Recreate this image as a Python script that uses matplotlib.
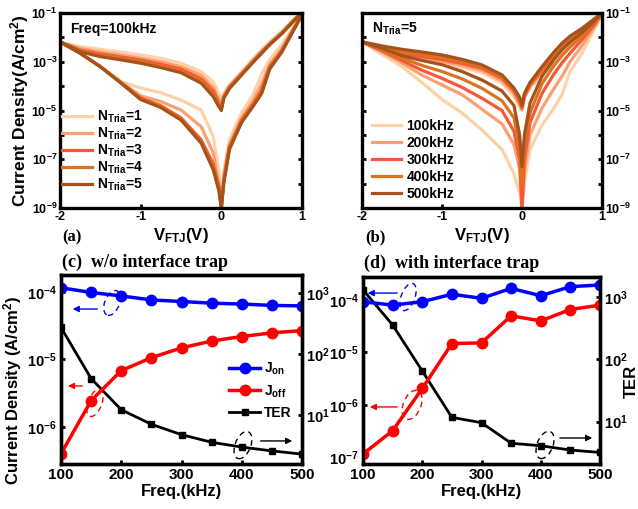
import numpy as np
import matplotlib
matplotlib.use("Agg")
import matplotlib.pyplot as plt
from matplotlib.ticker import FixedLocator, FuncFormatter, NullLocator
from matplotlib.patches import Ellipse

plt.rcParams["font.family"] = "Liberation Sans"
plt.rcParams["font.weight"] = "bold"
plt.rcParams["axes.labelweight"] = "bold"
plt.rcParams["mathtext.fontset"] = "custom"
plt.rcParams["mathtext.rm"] = "Liberation Sans:bold"
plt.rcParams["mathtext.it"] = "Liberation Sans:bold"
plt.rcParams["mathtext.bf"] = "Liberation Sans:bold"
plt.rcParams["axes.linewidth"] = 2.4

# ── Data: I-V loops, log10 of current density (A/cm^2) ─────────────
v_neg = [-2.0, -1.75, -1.5, -1.25, -1.0, -0.75, -0.5, -0.25, -0.1, -0.03, 0.0]
v_pos = [0.0, 0.03, 0.1, 0.25, 0.4, 0.5, 0.6, 0.75, 0.9, 1.0]

# (a) Freq = 100 kHz, N_Tria = 1..5
tria_labels = ["1", "2", "3", "4", "5"]
a_on_neg = [
    [-2.20, -2.38, -2.49, -2.60, -2.72, -2.86, -3.06, -3.40, -3.82, -4.30, -4.60],
    [-2.20, -2.45, -2.60, -2.72, -2.85, -3.00, -3.20, -3.55, -4.05, -4.55, -4.80],
    [-2.20, -2.52, -2.68, -2.80, -2.93, -3.10, -3.30, -3.70, -4.20, -4.70, -4.90],
    [-2.20, -2.55, -2.74, -2.87, -3.00, -3.18, -3.38, -3.80, -4.32, -4.80, -4.95],
    [-2.18, -2.59, -2.79, -2.92, -3.06, -3.24, -3.45, -3.88, -4.43, -4.85, -5.00],
]
a_off_neg = [
    [-2.18, -2.65, -3.20, -3.80, -4.08, -4.27, -4.57, -4.98, -6.07, -7.50, -9.00],
    [-2.18, -2.65, -3.20, -3.82, -4.40, -4.63, -4.98, -5.66, -6.74, -8.00, -9.00],
    [-2.18, -2.65, -3.20, -3.84, -4.48, -4.80, -5.30, -6.20, -7.20, -8.10, -9.00],
    [-2.18, -2.65, -3.20, -3.85, -4.52, -4.84, -5.36, -6.30, -7.35, -8.20, -9.00],
    [-2.18, -2.65, -3.20, -3.86, -4.55, -4.88, -5.39, -6.34, -7.43, -8.30, -9.00],
]
a_on_pos = [
    [-4.60, -4.30, -3.95, -3.40, -2.85, -2.50, -2.18, -1.75, -1.25, -0.95],
    [-4.80, -4.40, -4.00, -3.47, -2.92, -2.57, -2.24, -1.80, -1.28, -0.97],
    [-4.90, -4.45, -4.05, -3.50, -2.96, -2.61, -2.27, -1.82, -1.30, -0.98],
    [-4.95, -4.48, -4.08, -3.52, -2.98, -2.63, -2.29, -1.84, -1.31, -0.99],
    [-5.00, -4.50, -4.10, -3.55, -3.00, -2.65, -2.30, -1.85, -1.32, -1.00],
]
a_off_pos = [
    [-9.00, -7.50, -6.20, -5.10, -4.30, -3.50, -2.90, -2.30, -1.55, -1.05],
    [-9.00, -7.70, -6.40, -5.30, -4.55, -3.90, -3.10, -2.45, -1.60, -1.06],
    [-9.00, -7.85, -6.50, -5.40, -4.70, -4.15, -3.20, -2.55, -1.65, -1.07],
    [-9.00, -7.95, -6.55, -5.45, -4.75, -4.25, -3.25, -2.58, -1.67, -1.08],
    [-9.00, -8.00, -6.60, -5.50, -4.80, -4.30, -3.30, -2.60, -1.68, -1.08],
]

# (b) N_Tria = 5, 100..500 kHz
freq_labels = ["100kHz", "200kHz", "300kHz", "400kHz", "500kHz"]
b_on_neg = [
    [-2.18, -2.59, -2.79, -2.92, -3.06, -3.24, -3.45, -3.88, -4.43, -4.85, -5.00],
    [-2.18, -2.55, -2.72, -2.86, -2.98, -3.15, -3.36, -3.78, -4.30, -4.75, -4.95],
    [-2.18, -2.50, -2.66, -2.79, -2.91, -3.07, -3.27, -3.68, -4.20, -4.65, -4.90],
    [-2.18, -2.45, -2.58, -2.70, -2.82, -2.98, -3.18, -3.60, -4.12, -4.55, -4.85],
    [-2.18, -2.35, -2.49, -2.60, -2.72, -2.90, -3.13, -3.54, -4.08, -4.45, -4.80],
]
b_off_neg = [
    [-2.18, -2.70, -3.20, -3.85, -4.55, -5.10, -5.80, -6.60, -7.60, -8.40, -9.00],
    [-2.18, -2.60, -3.05, -3.55, -3.95, -4.35, -4.95, -5.55, -6.40, -7.40, -9.00],
    [-2.18, -2.55, -2.95, -3.35, -3.68, -4.05, -4.50, -5.00, -5.85, -7.00, -9.00],
    [-2.18, -2.50, -2.85, -3.15, -3.40, -3.70, -4.09, -4.60, -5.30, -6.50, -8.00],
    [-2.18, -2.45, -2.75, -2.95, -3.12, -3.40, -3.75, -4.20, -4.80, -6.00, -7.30],
]
b_on_pos = [
    [-5.00, -4.50, -4.10, -3.55, -3.00, -2.65, -2.30, -1.85, -1.30, -1.00],
    [-4.95, -4.45, -4.00, -3.45, -2.90, -2.55, -2.20, -1.78, -1.30, -1.00],
    [-4.90, -4.40, -3.95, -3.35, -2.80, -2.45, -2.12, -1.72, -1.28, -1.00],
    [-4.85, -4.35, -3.90, -3.28, -2.70, -2.35, -2.03, -1.68, -1.27, -1.00],
    [-4.80, -4.30, -3.85, -3.20, -2.60, -2.24, -1.95, -1.63, -1.25, -1.00],
]
b_off_pos = [
    [-9.00, -8.00, -6.60, -5.60, -4.90, -4.35, -3.40, -2.65, -1.70, -1.05],
    [-9.00, -7.50, -6.00, -4.90, -4.10, -3.60, -3.00, -2.35, -1.60, -1.03],
    [-9.00, -7.00, -5.50, -4.30, -3.50, -3.05, -2.65, -2.10, -1.50, -1.02],
    [-8.00, -6.50, -5.10, -3.90, -3.15, -2.75, -2.40, -1.95, -1.42, -1.00],
    [-7.30, -6.00, -4.70, -3.60, -2.90, -2.50, -2.20, -1.80, -1.35, -1.00],
]

# (c), (d) frequency sweeps
freq = [100, 150, 200, 250, 300, 350, 400, 450, 500]
c_jon = [1.15e-4, 9.8e-5, 8.7e-5, 7.6e-5, 7.2e-5, 6.8e-5, 6.6e-5, 6.3e-5, 6.2e-5]
c_joff = [4.0e-7, 2.45e-6, 6.8e-6, 1.06e-5, 1.48e-5, 1.87e-5, 2.18e-5, 2.47e-5, 2.67e-5]
c_ter = [275, 40, 12.3, 7.1, 4.8, 3.6, 3.0, 2.6, 2.3]
d_jon = [9.3e-5, 8.0e-5, 9.3e-5, 1.29e-4, 1.08e-4, 1.67e-4, 1.21e-4, 1.8e-4, 1.94e-4]
d_joff = [1.15e-7, 3.2e-7, 2.05e-6, 1.48e-5, 1.52e-5, 5.0e-5, 4.0e-5, 6.6e-5, 8.0e-5]
d_ter = [1300, 355, 65, 11.7, 9.6, 4.5, 4.1, 3.5, 3.2]

loop_colors = ["#FDD2A8", "#FBA070", "#F9573A", "#DB741E", "#A5521C"]

# ── Figure layout (pixel boxes) ────────────────────────────────────
W, H = 638, 509
fig = plt.figure(figsize=(W / 100, H / 100), dpi=100)


def box(l, t, r, b):
    return [l / W, 1 - b / H, (r - l) / W, (b - t) / H]


def fx(x):
    return x / W


def fy(y):
    return 1 - y / H


def dec_axis(axis, lo, hi, step=1):
    exps = list(range(lo, hi + 1))
    axis.set_major_locator(FixedLocator([10.0 ** e for e in exps]))
    axis.set_minor_locator(NullLocator())

    def fmt(v, p):
        e = int(round(np.log10(v)))
        if (e - hi) % step == 0:
            return f"$10^{{{e}}}$"
        return ""
    axis.set_major_formatter(FuncFormatter(fmt))


def iv_panel(ax, on_neg, off_neg, on_pos, off_pos, labels):
    handles = []
    vv = np.r_[v_neg, v_pos[1:]]
    for i in range(len(labels)):
        c = loop_colors[i]
        on = np.r_[on_neg[i], on_pos[i][1:]]
        off = np.r_[off_neg[i], off_pos[i][1:]]
        ax.plot(vv, 10.0 ** off, color=c, lw=2.3, solid_joinstyle="round")
        h, = ax.plot(vv, 10.0 ** on, color=c, lw=2.3, solid_joinstyle="round", label=labels[i])
        handles.append(h)
    ax.set_yscale("log")
    ax.set_xlim(-2, 1)
    ax.set_ylim(1e-9, 1e-1)
    ax.set_xticks([-2, -1, 0, 1])
    ax.set_xticklabels(["-2", "-1", "0", "1"])
    dec_axis(ax.yaxis, -9, -1, step=2)
    ax.tick_params(direction="in", length=3, width=2, labelsize=9, pad=2,
                   left=True, right=True)
    return handles


# (a)
ax_a = fig.add_axes(box(60, 13, 302, 208))
ha = iv_panel(ax_a, a_on_neg, a_off_neg, a_on_pos, a_off_pos,
              ["N$_{Tria}$=" + s for s in tria_labels])
ax_a.set_xlabel("V$_{FTJ}$(V)", fontsize=12, labelpad=2)
ax_a.set_ylabel("Current Density(A/cm$^2$)", fontsize=12.5, labelpad=0)
ax_a.text(0.04, 0.9, "Freq=100kHz", transform=ax_a.transAxes, fontsize=10)
ax_a.legend(handles=ha, loc="lower left", bbox_to_anchor=(0.01, 0.075), frameon=False,
            fontsize=10, handlelength=2.1, handletextpad=0.4, labelspacing=0.05,
            borderpad=0, borderaxespad=0)

# (b)
ax_b = fig.add_axes(box(362, 13, 602, 208))
hb = iv_panel(ax_b, b_on_neg, b_off_neg, b_on_pos, b_off_pos, freq_labels)
ax_b.tick_params(axis="y", labelleft=False, labelright=True)
ax_b.set_xlabel("V$_{FTJ}$(V)", fontsize=12, labelpad=2)
ax_b.text(0.04, 0.9, "N$_{Tria}$=5", transform=ax_b.transAxes, fontsize=10)
ax_b.legend(handles=hb, loc="lower left", bbox_to_anchor=(0.04, 0.035), frameon=False,
            fontsize=10, handlelength=2.1, handletextpad=0.4, labelspacing=0.22,
            borderpad=0, borderaxespad=0)

fig.text(fx(62), fy(237), "(a)", family="Liberation Serif", fontsize=12, va="center")
fig.text(fx(365), fy(237), "(b)", family="Liberation Serif", fontsize=12, va="center")


def sweep_panel(ax, jon, joff, ter, jlim, tlim, jdec, tdec):
    ax2 = ax.twinx()
    h3, = ax2.plot(freq, ter, color="black", lw=2, marker="s", ms=5, label="TER")
    h1, = ax.plot(freq, jon, color="#0000FF", lw=2.5, marker="o", ms=7.5, label="J$_{on}$")
    h2, = ax.plot(freq, joff, color="#FF0000", lw=2.5, marker="o", ms=7.5, label="J$_{off}$")
    ax.set_zorder(ax2.get_zorder() + 1)
    ax.patch.set_visible(False)
    ax.set_yscale("log")
    ax2.set_yscale("log")
    ax.set_xlim(100, 500)
    ax.set_ylim(*jlim)
    ax2.set_ylim(*tlim)
    ax.set_xticks([100, 200, 300, 400, 500])
    dec_axis(ax.yaxis, jdec[0], jdec[1])
    dec_axis(ax2.yaxis, tdec[0], tdec[1])
    ax.tick_params(direction="in", length=3, width=2, pad=3)
    ax.tick_params(axis="x", labelsize=11)
    ax.tick_params(axis="y", labelsize=10.5)
    ax2.tick_params(direction="in", length=3, width=2, labelsize=10.5, pad=3)
    ax.set_xlabel("Freq.(kHz)", fontsize=12, labelpad=1)
    return ax2, [h1, h2, h3]


def callout(ax, cx, cy, w, h, x0, x1, ya, color):
    ax.add_patch(Ellipse((cx, cy), w, h, angle=-15, transform=ax.transAxes, fill=False,
                         ls=(0, (4, 3)), lw=1, color=color))
    ax.annotate("", xy=(x1, ya), xytext=(x0, ya), xycoords="axes fraction",
                arrowprops=dict(arrowstyle="-|>", color=color, lw=1, mutation_scale=9))


# (c)
ax_c = fig.add_axes(box(61, 275, 302, 464))
ax_c2, hc = sweep_panel(ax_c, c_jon, c_joff, c_ter, (10 ** -6.55, 10 ** -3.75),
                        (10 ** 0.2, 10 ** 3.3), (-6, -4), (1, 3))
ax_c.set_ylabel("Current Density (A/cm$^2$)", fontsize=12)
ax_c.yaxis.set_label_coords(-0.155, 0.39)
ax_c.legend(handles=hc, loc="center left", bbox_to_anchor=(0.67, 0.39), frameon=False,
            fontsize=10, handlelength=2.2, handletextpad=0.3, labelspacing=0.45,
            borderpad=0)
callout(ax_c, 0.212, 0.852, 0.062, 0.135, 0.162, 0.037, 0.82, "#0000FF")
callout(ax_c, 0.141, 0.323, 0.058, 0.148, 0.10, 0.017, 0.413, "#FF0000")
callout(ax_c, 0.755, 0.10, 0.066, 0.148, 0.817, 0.971, 0.122, "black")

# (d)
ax_d = fig.add_axes(box(363, 277, 600, 464))
ax_d2, hd = sweep_panel(ax_d, d_jon, d_joff, d_ter, (10 ** -7.13, 10 ** -3.56),
                        (10 ** 0.32, 10 ** 3.32), (-7, -4), (1, 3))
ax_d2.set_ylabel("TER", fontsize=12)
ax_d2.yaxis.set_label_coords(1.10, 0.44)
callout(ax_d, 0.19, 0.893, 0.059, 0.15, 0.156, 0.008, 0.914, "#0000FF")
callout(ax_d, 0.207, 0.316, 0.076, 0.16, 0.156, 0.017, 0.305, "#FF0000")
callout(ax_d, 0.768, 0.102, 0.068, 0.15, 0.819, 0.979, 0.139, "black")

fig.text(fx(62), fy(262), "(c)  w/o interface trap", family="Liberation Serif",
         fontsize=13, va="center")
fig.text(fx(364), fy(263), "(d)  with interface trap", family="Liberation Serif",
         fontsize=13, va="center")

fig.savefig("out.png", dpi=100)
